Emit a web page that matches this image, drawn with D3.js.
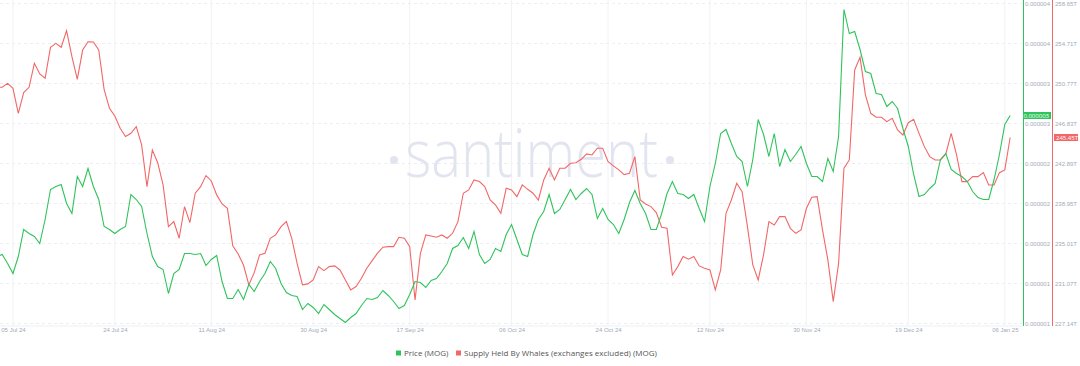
<!DOCTYPE html>
<html>
<head>
<meta charset="utf-8">
<script src="https://cdn.jsdelivr.net/npm/d3@7"></script>
<style>
  body { margin: 0; background: #fff; }
  svg { display: block; font-family: "Open Sans", "Noto Sans", sans-serif; }
</style>
</head>
<body>
<div id="chart"></div>
<script>
// daily samples, first one on 02 Jul 2024
var startDay = "2024-07-02";

// MOG price, in millionths of a USD
var price = [
  1.47, 1.49, 1.40, 1.30, 1.47, 1.74, 1.70, 1.67, 1.60, 1.84,
  2.14, 2.17, 2.19, 2.00, 1.90, 2.27, 2.17, 2.35, 2.17, 2.04,
  1.77, 1.74, 1.70, 1.74, 1.77, 2.09, 2.04, 1.97, 1.70, 1.47,
  1.37, 1.34, 1.10, 1.30, 1.34, 1.50, 1.50, 1.49, 1.50, 1.38,
  1.44, 1.48, 1.22, 1.05, 1.05, 1.14, 1.04, 1.19, 1.12, 1.22,
  1.30, 1.42, 1.35, 1.20, 1.11, 1.08, 1.07, 0.94, 1.00, 0.96,
  0.90, 0.99, 0.94, 0.89, 0.85, 0.81, 0.86, 0.90, 0.98, 1.05,
  1.04, 1.06, 1.13, 1.08, 1.02, 0.95, 0.98, 1.09, 1.22, 1.21,
  1.16, 1.23, 1.25, 1.32, 1.40, 1.55, 1.58, 1.66, 1.55, 1.72,
  1.49, 1.40, 1.44, 1.55, 1.52, 1.69, 1.79, 1.64, 1.49, 1.47,
  1.69, 1.84, 1.92, 2.09, 1.90, 1.94, 2.04, 2.14, 2.04, 2.10,
  2.15, 2.09, 1.85, 1.95, 1.84, 1.79, 1.70, 1.84, 2.01, 2.13,
  2.00, 1.90, 1.74, 1.74, 1.90, 2.10, 2.22, 2.10, 2.09, 2.05,
  2.09, 1.95, 1.82, 2.17, 2.40, 2.70, 2.74, 2.60, 2.47, 2.42,
  2.17, 2.44, 2.84, 2.69, 2.47, 2.70, 2.37, 2.54, 2.42, 2.49,
  2.57, 2.40, 2.27, 2.27, 2.22, 2.45, 2.32, 2.67, 3.94, 3.70,
  3.72, 3.54, 3.32, 3.30, 3.10, 3.09, 2.97, 3.02, 2.95, 2.75,
  2.57, 2.29, 2.07, 2.09, 2.15, 2.20, 2.44, 2.50, 2.34, 2.30,
  2.27, 2.22, 2.12, 2.06, 2.04, 2.04, 2.24, 2.49, 2.79, 2.88
];

// supply held by whales, in trillions of MOG
var whales = [
  250.39, 250.39, 250.78, 250.29, 247.83, 249.87, 250.39, 252.75, 251.70, 251.28,
  254.33, 254.72, 254.33, 255.97, 253.41, 251.18, 254.06, 254.88, 254.85, 254.06,
  250.19, 248.32, 247.57, 246.36, 245.54, 245.86, 246.52, 244.72, 240.61, 244.22,
  242.97, 240.78, 236.68, 237.17, 235.53, 238.65, 237.07, 239.96, 240.61, 241.70,
  241.17, 239.80, 238.91, 238.48, 234.78, 233.99, 232.90, 230.94, 232.15, 233.89,
  234.06, 235.53, 235.86, 236.68, 237.17, 235.53, 233.07, 230.94, 231.04, 231.43,
  232.74, 232.35, 232.74, 232.81, 232.41, 231.43, 230.45, 230.78, 231.60, 232.58,
  233.33, 234.06, 234.65, 234.71, 234.71, 235.63, 235.53, 234.71, 229.46, 234.05,
  235.86, 235.76, 235.63, 235.86, 235.53, 236.02, 237.17, 239.96, 240.29, 241.27,
  241.11, 240.61, 239.30, 238.81, 237.99, 240.45, 240.29, 239.63, 240.78, 240.35,
  239.96, 239.30, 241.27, 242.42, 241.27, 242.42, 242.42, 242.91, 242.97, 243.30,
  243.83, 243.73, 244.39, 244.39, 243.07, 242.65, 242.26, 241.80, 241.93, 243.57,
  239.30, 238.91, 238.65, 238.06, 236.61, 236.51, 231.92, 232.74, 233.73, 233.47,
  233.73, 232.81, 232.58, 232.41, 230.45, 232.41, 237.99, 239.30, 240.94, 240.12,
  236.68, 232.90, 231.43, 233.89, 237.17, 236.84, 237.66, 237.66, 236.51, 236.02,
  236.35, 238.48, 239.57, 239.63, 236.35, 233.40, 229.30, 233.07, 242.42, 243.24,
  252.10, 253.34, 249.64, 247.83, 247.44, 247.44, 247.01, 247.34, 246.19, 245.70,
  246.91, 247.24, 245.86, 244.55, 243.57, 243.24, 243.24, 243.83, 245.86, 243.73,
  241.11, 241.11, 241.60, 241.60, 241.99, 240.78, 240.78, 241.99, 242.26, 245.45
];

var xTickDates = ["2024-07-05", "2024-07-24", "2024-08-11", "2024-08-30", "2024-09-17",
  "2024-10-06", "2024-10-24", "2024-11-12", "2024-11-30", "2024-12-19", "2025-01-06"];
var priceTickLabels = ["0.000001", "0.000001", "0.000002", "0.000002", "0.000002",
  "0.000003", "0.000003", "0.000004", "0.000004"];
var whaleTickLabels = ["227.14T", "231.07T", "235.01T", "238.95T", "242.89T",
  "246.83T", "250.77T", "254.71T", "258.65T"];
var priceDomain = [0.8, 4.0];
var whaleDomain = [227.14, 258.64];
var seriesNames = ["Price (MOG)", "Supply Held By Whales (exchanges excluded) (MOG)"];

var width = 1080, height = 366;
var plotRight = 1022, plotTop = 3.5, plotBottom = 323.5;
var green = "#2fc35b", red = "#f26767", tickColor = "#a3aabb";

var parse = d3.utcParse("%Y-%m-%d");
var day0 = parse(startDay);
var dates = price.map(function(d, i) { return d3.utcDay.offset(day0, i); });

var svg = d3.select("#chart").append("svg")
    .attr("width", width)
    .attr("height", height);

var x = d3.scaleUtc()
    .domain([new Date(Date.UTC(2024, 6, 2, 14)), new Date(Date.UTC(2025, 0, 9, 5))])
    .range([0, plotRight]);
var yPrice = d3.scaleLinear().domain(priceDomain).range([plotBottom, plotTop]);
var yWhale = d3.scaleLinear().domain(whaleDomain).range([plotBottom, plotTop]);

var priceTicks = priceTickLabels.map(function(d, i) {
  return priceDomain[0] + i * (priceDomain[1] - priceDomain[0]) / (priceTickLabels.length - 1);
});
var whaleTicks = whaleTickLabels.map(function(d, i) {
  return whaleDomain[0] + i * (whaleDomain[1] - whaleDomain[0]) / (whaleTickLabels.length - 1);
});
var xTicks = xTickDates.map(function(d) { return parse(d); });

// grid
svg.append("g")
  .selectAll("line")
  .data(priceTicks)
  .enter().append("line")
    .attr("x1", 0).attr("x2", plotRight)
    .attr("y1", function(d) { return yPrice(d); })
    .attr("y2", function(d) { return yPrice(d); })
    .attr("stroke", "#eceef3")
    .attr("stroke-dasharray", "3,3");

svg.append("g")
  .selectAll("line")
  .data(xTicks)
  .enter().append("line")
    .attr("x1", function(d) { return x(d); })
    .attr("x2", function(d) { return x(d); })
    .attr("y1", 0).attr("y2", 326)
    .attr("stroke", "#f1f2f6");

svg.append("line")
    .attr("x1", 0).attr("x2", plotRight)
    .attr("y1", 326).attr("y2", 326)
    .attr("stroke", "#eef0f4");

// watermark
var wm = svg.append("g").attr("fill", "#e2e5ef");
wm.append("text")
    .attr("x", 405).attr("y", 177)
    .attr("textLength", 253)
    .attr("lengthAdjust", "spacingAndGlyphs")
    .style("font-size", "66px")
    .style("font-weight", 300)
    .text("santiment");
wm.append("circle").attr("cx", 394).attr("cy", 160).attr("r", 4);
wm.append("circle").attr("cx", 670).attr("cy", 160).attr("r", 4);

// x axis
var xAxis = d3.axisBottom(x)
    .tickValues(xTicks)
    .tickSize(0)
    .tickFormat(d3.utcFormat("%d %b %y"));
var gx = svg.append("g")
    .attr("transform", "translate(0,326)")
    .call(xAxis);
gx.select(".domain").remove();
gx.selectAll("text")
    .attr("dy", "0.71em")
    .attr("y", 2)
    .attr("fill", tickColor)
    .style("font-size", "6px");

// right axes
var gp = svg.append("g")
    .attr("transform", "translate(1050,0)")
    .call(d3.axisLeft(yPrice).tickValues(priceTicks).tickSize(0)
      .tickFormat(function(d, i) { return priceTickLabels[i]; }));
gp.select(".domain").remove();
gp.selectAll("text").attr("x", 0).attr("fill", tickColor).style("font-size", "6px");

var gw = svg.append("g")
    .attr("transform", "translate(1055,0)")
    .call(d3.axisRight(yWhale).tickValues(whaleTicks).tickSize(0)
      .tickFormat(function(d, i) { return whaleTickLabels[i]; }));
gw.select(".domain").remove();
gw.selectAll("text").attr("x", 0).attr("fill", tickColor).style("font-size", "6px");

svg.append("line")
    .attr("x1", 1023.5).attr("x2", 1023.5).attr("y1", 0).attr("y2", 326)
    .attr("stroke", green).attr("stroke-width", 1);
svg.append("line")
    .attr("x1", 1052.5).attr("x2", 1052.5).attr("y1", 0).attr("y2", 326)
    .attr("stroke", red).attr("stroke-width", 1);

// lines
var clip = svg.append("clipPath").attr("id", "plot-clip")
  .append("rect").attr("x", 0).attr("y", 0).attr("width", plotRight).attr("height", 330);

var whaleLine = d3.line()
    .x(function(d, i) { return x(dates[i]); })
    .y(function(d) { return yWhale(d); });
var priceLine = d3.line()
    .x(function(d, i) { return x(dates[i]); })
    .y(function(d) { return yPrice(d); });

svg.append("path")
    .datum(whales)
    .attr("clip-path", "url(#plot-clip)")
    .attr("fill", "none")
    .attr("stroke", red)
    .attr("stroke-width", 1.1)
    .attr("d", whaleLine);

svg.append("path")
    .datum(price)
    .attr("clip-path", "url(#plot-clip)")
    .attr("fill", "none")
    .attr("stroke", green)
    .attr("stroke-width", 1.1)
    .attr("d", priceLine);

// last value badges
var lastPrice = price[price.length - 1], lastWhale = whales[whales.length - 1];
svg.append("rect")
    .attr("x", 1023).attr("y", yPrice(lastPrice) - 3.5)
    .attr("width", 28).attr("height", 7)
    .attr("fill", green);
svg.append("text")
    .attr("x", 1049).attr("y", yPrice(lastPrice))
    .attr("dy", "0.35em")
    .attr("text-anchor", "end")
    .attr("fill", "#fff")
    .style("font-size", "6px")
    .text(d3.format(".6f")(lastPrice / 1e6));
svg.append("rect")
    .attr("x", 1054).attr("y", yWhale(lastWhale) - 3.5)
    .attr("width", 24).attr("height", 7)
    .attr("fill", red);
svg.append("text")
    .attr("x", 1056).attr("y", yWhale(lastWhale))
    .attr("dy", "0.35em")
    .attr("fill", "#fff")
    .style("font-size", "6px")
    .text(lastWhale.toFixed(2) + "T");

// legend
var legend = svg.append("g").attr("transform", "translate(396,353)");
var items = [{name: seriesNames[0], color: green, x: 0}, {name: seriesNames[1], color: red, x: 60}];
var item = legend.selectAll("g")
  .data(items)
  .enter().append("g")
    .attr("transform", function(d) { return "translate(" + d.x + ",0)"; });
item.append("rect")
    .attr("x", 0).attr("y", -2.5)
    .attr("width", 5).attr("height", 5)
    .attr("fill", function(d) { return d.color; });
item.append("text")
    .attr("x", 8).attr("dy", "0.35em")
    .attr("fill", "#555")
    .style("font-size", "8px")
    .text(function(d) { return d.name; });
</script>
</body>
</html>
